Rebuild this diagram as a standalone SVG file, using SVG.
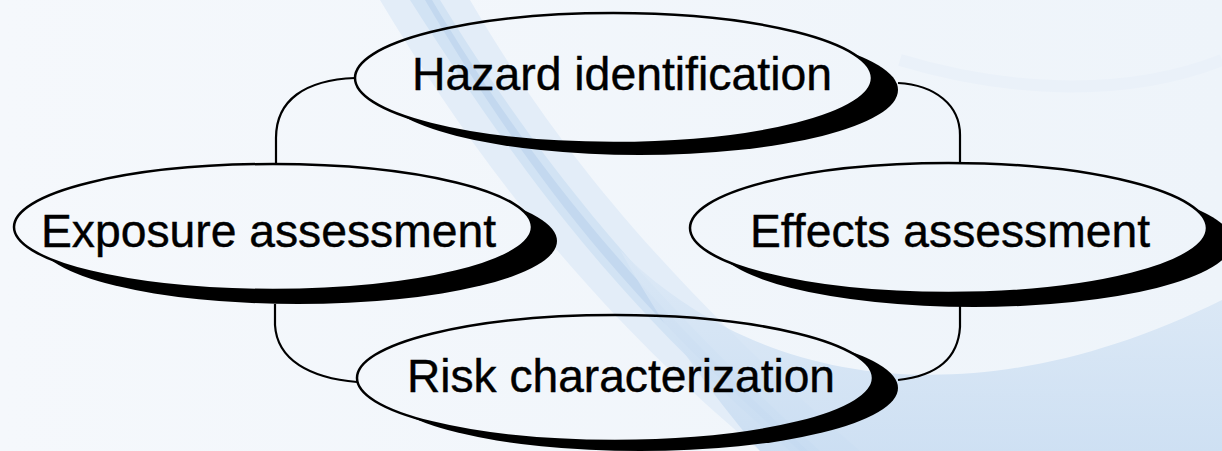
<svg xmlns="http://www.w3.org/2000/svg" width="1222" height="451" viewBox="0 0 1222 451">
  <defs>
    <linearGradient id="bg" x1="0" y1="0" x2="1" y2="0">
      <stop offset="0" stop-color="#f5f8fc"/>
      <stop offset="1" stop-color="#eef4fa"/>
    </linearGradient>
    <linearGradient id="swoosh" x1="0" y1="0" x2="0" y2="1">
      <stop offset="0" stop-color="#dbe8f6"/>
      <stop offset="1" stop-color="#c6dbf1"/>
    </linearGradient>
    <mask id="mHaz"><rect width="1222" height="451" fill="#fff"/><ellipse cx="613.5" cy="78" rx="258.5" ry="65" fill="#000"/></mask>
    <mask id="mExp"><rect width="1222" height="451" fill="#fff"/><ellipse cx="273" cy="227" rx="259" ry="63" fill="#000"/></mask>
    <mask id="mEff"><rect width="1222" height="451" fill="#fff"/><ellipse cx="948.5" cy="228" rx="258.5" ry="65" fill="#000"/></mask>
    <mask id="mRisk"><rect width="1222" height="451" fill="#fff"/><ellipse cx="615" cy="378" rx="258" ry="63" fill="#000"/></mask>
  </defs>
  <style>
    .outline { fill: none; stroke: #000; stroke-width: 2.5; }
    .shadow { fill: #000; }
    .label { font-family: "Liberation Sans Narrow", "Liberation Sans", Arial, sans-serif; font-size: 46px; fill: #000; stroke: #000; stroke-width: 0.4; }
    .conn { fill: none; stroke: #000; stroke-width: 2.2; }
  </style>

  <g id="background">
    <rect width="1222" height="451" fill="url(#bg)"/>
    <path d="M380,0 L470,0 C540,120 640,260 860,451 L760,451 C580,300 470,150 380,0 Z" fill="#e3edf8"/>
    <path d="M410,0 L440,0 C520,130 620,270 820,451 L790,451 C600,290 500,140 410,0 Z" fill="#d2e3f4"/>
    <path d="M425,0 L432,0 C510,130 610,270 808,451 L800,451 C605,285 505,135 425,0 Z" fill="#c3d8ef"/>
    <path d="M620,250 C760,390 980,420 1222,300 L1222,451 L760,451 C700,380 660,320 620,250 Z" fill="url(#swoosh)" opacity="0.8"/>
    <path d="M900,60 C1000,90 1120,100 1222,60" fill="none" stroke="#eaf1f9" stroke-width="12"/>
  </g>

  <g id="connectors">
    <path class="conn" d="M355,78 C305,80 276,100 276,138 L276,163"/>
    <path class="conn" d="M898,83 C935,85 960,105 960,135 L960,163"/>
    <path class="conn" d="M275,304 L275,325 C277,360 310,378 357,382"/>
    <path class="conn" d="M960,306 L960,327 C958,360 935,376 898,380"/>
  </g>

  <g id="hazard">
    <ellipse class="shadow" cx="639.5" cy="90" rx="258.5" ry="65" mask="url(#mHaz)"/>
    <ellipse class="outline" cx="613.5" cy="78" rx="258.5" ry="65"/>
    <text class="label" x="412" y="90" textLength="420" lengthAdjust="spacingAndGlyphs">Hazard identification</text>
  </g>

  <g id="exposure">
    <ellipse class="shadow" cx="298" cy="241" rx="259" ry="63" mask="url(#mExp)"/>
    <ellipse class="outline" cx="273" cy="227" rx="259" ry="63"/>
    <text class="label" x="41" y="247" textLength="455" lengthAdjust="spacingAndGlyphs">Exposure assessment</text>
  </g>

  <g id="effects">
    <ellipse class="shadow" cx="974" cy="242" rx="258.5" ry="65" mask="url(#mEff)"/>
    <ellipse class="outline" cx="948.5" cy="228" rx="258.5" ry="65"/>
    <text class="label" x="750" y="247" textLength="400" lengthAdjust="spacingAndGlyphs">Effects assessment</text>
  </g>

  <g id="risk">
    <ellipse class="shadow" cx="640" cy="388" rx="258" ry="63" mask="url(#mRisk)"/>
    <ellipse class="outline" cx="615" cy="378" rx="258" ry="63"/>
    <text class="label" x="407" y="392" textLength="428" lengthAdjust="spacingAndGlyphs">Risk characterization</text>
  </g>
</svg>
